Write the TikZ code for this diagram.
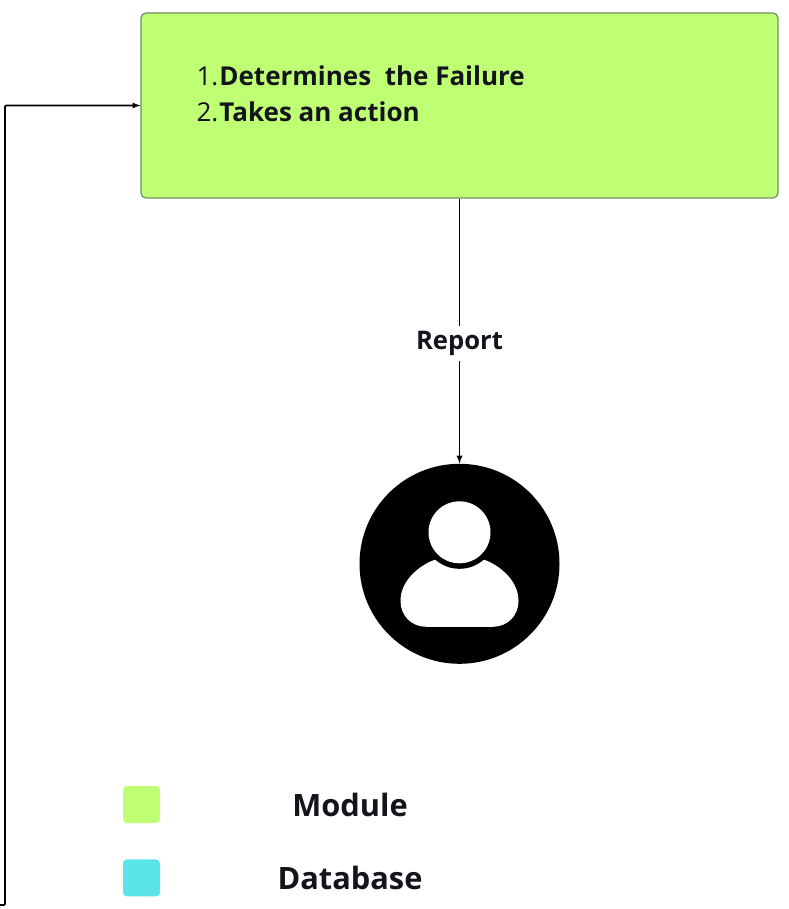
\documentclass[tikz,border=0pt]{standalone}
\usepackage{fontspec}
\setmainfont{Open Sans}
\usetikzlibrary{positioning}
\definecolor{modulegreen}{HTML}{BEFF73}
\definecolor{modulerim}{HTML}{6F8F5F}
\definecolor{dbcyan}{HTML}{5CE5E8}
\definecolor{inkdark}{HTML}{14141C}
\tikzset{
    modulebox/.style={draw=modulerim, fill=modulegreen, rounded corners=5pt, line width=1.2pt, minimum width=637pt, minimum height=185pt, inner sep=0pt},
    userdisc/.style={circle, fill=black, minimum size=200pt, inner sep=0pt},
    legendkey/.style={rounded corners=4pt, minimum size=37pt, inner sep=0pt},
    legendtext/.style={font=\fontsize{30.8}{34}\selectfont\bfseries, text=inkdark, inner sep=0pt},
    link/.style={line width=1.7pt, -latex},
}
\begin{document}
\begin{tikzpicture}[x=1pt, y=1pt]
                \useasboundingbox (0,0) rectangle (788,-909);

                \node [modulebox] (module) at (459.5,-105.5) {};
                \node [below right=53pt and 56pt of module.north west, anchor=north west, inner sep=0pt, align=left, text=inkdark, font=\fontsize{26}{36}\selectfont] (steps)
                    {1.\kern1pt\textbf{Determines\ \ the Failure}\\2.\kern1pt\textbf{Takes an action}};
                \node [userdisc, below=265pt of module] (user) {};

                \coordinate (tail) at (0,-905);
                \coordinate (corner) at (5,-905);
                \coordinate (bend) at (corner |- module.west);

                \draw [link, rounded corners=1pt] (tail) -- (corner) -- (bend) -- (module.west);
                \draw [link] (module) -- node [pos=0.547, fill=white, inner xsep=2pt, inner ysep=5pt, text=inkdark, font=\fontsize{25.6}{28}\selectfont\bfseries] (report) {Report} (user);

                % person inside the disc
                \begin{scope}[shift={(user.center)}]
                    \fill [white] (-24.5,4) .. controls (-35,1) and (-59,-14) .. (-59,-37) .. controls (-59,-52) and (-48,-63) .. (-33,-63) -- (33,-63) .. controls (48,-63) and (59,-52) .. (59,-37) .. controls (59,-14) and (35,1) .. (24.5,4) -- cycle;
                    \fill [black] (0,31.5) circle (36.5);
                    \fill [white] (0,31.5) circle (31);
                \end{scope}

                \node [legendkey, fill=modulegreen] (modulekey) at (141.5,-804.5) {};
                \node [legendkey, fill=dbcyan, below=36pt of modulekey] (dbkey) {};
                \node [legendtext] (modulelabel) at (350,-805) {Module};
                \node [legendtext] (dblabel) at (350,-878) {Database};
            \end{tikzpicture}
\end{document}
